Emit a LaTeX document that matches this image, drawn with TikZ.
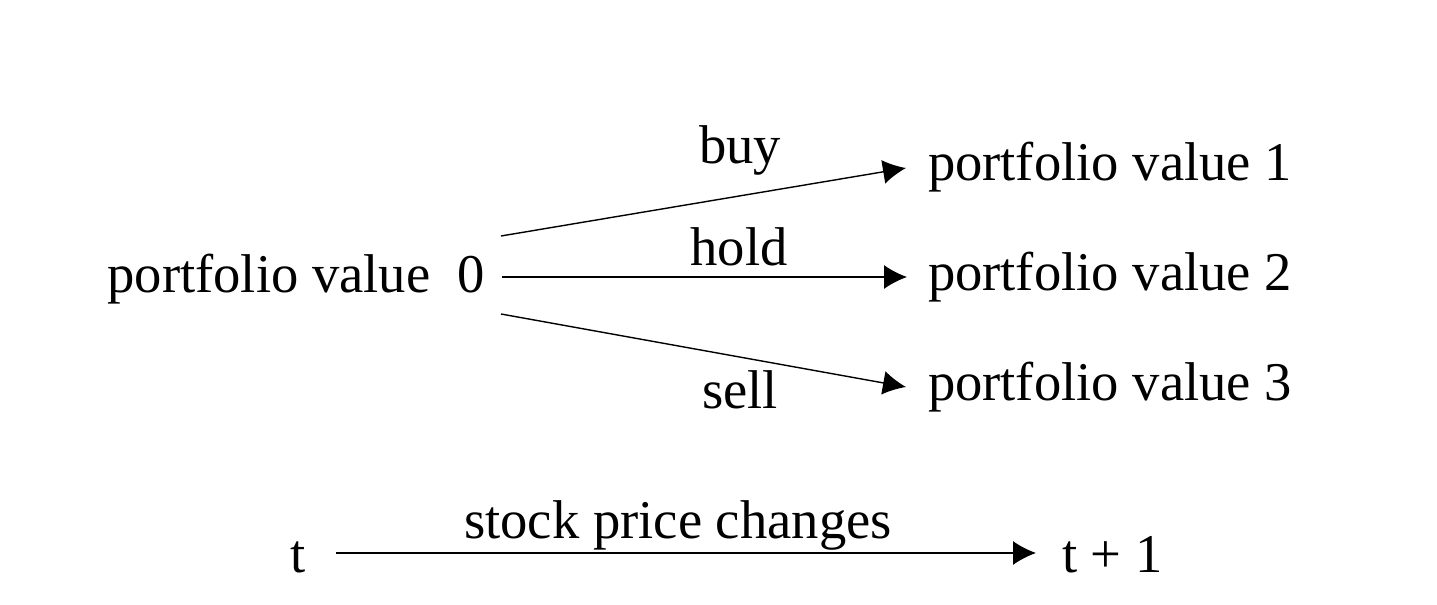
\documentclass[tikz,border=0pt]{standalone}
\usepackage{fontspec}
\setmainfont{Liberation Serif}
\usetikzlibrary{arrows.meta}
\begin{document}
\begin{tikzpicture}[x=0.5pt,y=-0.5pt,
  txt/.style={inner sep=0pt,outer sep=0pt,font=\fontsize{27.3}{32}\selectfont},
  arr/.style={line width=0.7pt,-{Latex[length=11.5pt,width=12pt]}}]
\useasboundingbox (0,0) rectangle (1437,605);
% nodes
\node[txt,anchor=base east] (p0) at (485,292) {portfolio value~~0};
\node[txt,anchor=base west] (p1) at (928,180) {portfolio value 1};
\node[txt,anchor=base west] (p2) at (928,290) {portfolio value 2};
\node[txt,anchor=base west] (p3) at (928,400) {portfolio value 3};
\node[txt,anchor=base] (lbuy) at (740,163) {buy};
\node[txt,anchor=base] (lhold) at (739,265) {hold};
\node[txt,anchor=base] (lsell) at (740,408) {sell};
\node[txt,anchor=base west] (t0) at (290,572) {t};
\node[txt,anchor=base west] (t1) at (1062,572) {t + 1};
\node[txt,anchor=base] (lstock) at (678,538) {stock price changes};
% connector end points
\coordinate (s1) at (501,236);
\coordinate (s2) at (502,277);
\coordinate (s3) at (501,314);
\coordinate (e1) at (906,168);
\coordinate (e2) at (907,277);
\coordinate (e3) at (906,387);
\coordinate (ts) at (336,553);
\coordinate (te) at (1036,553);
% connectors
\draw[arr] (s1) -- (e1);
\draw[arr] (s2) -- (e2);
\draw[arr] (s3) -- (e3);
\draw[arr] (ts) -- (te);
\end{tikzpicture}
\end{document}
